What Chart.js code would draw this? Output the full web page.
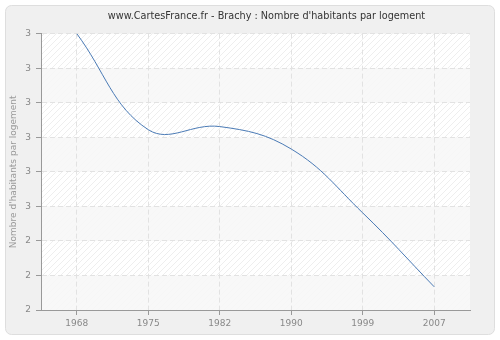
<!DOCTYPE html>
<html>
<head>
<meta charset="utf-8">
<script src="https://cdn.jsdelivr.net/npm/chart.js@4/dist/chart.umd.min.js"></script>
<style>
  html, body { margin: 0; padding: 0; background: #fff; }
</style>
</head>
<body>
<canvas id="chart" width="500" height="340"></canvas>
<script>
// values
const years = ['1968', '1975', '1982', '1990', '1999', '2007'];
const habitants = [3.0, 2.722, 2.731, 2.666, 2.481, 2.267];
const yMin = 2.2;
const yMax = 3.0;
const yStep = 0.1;

const font = "'DejaVu Sans', Verdana, sans-serif";

// hatch pattern for the plot area
function makeHatch() {
    const c = document.createElement('canvas');
    c.width = 6; c.height = 6;
    const g = c.getContext('2d');
    g.fillStyle = '#ffffff';
    g.fillRect(0, 0, 6, 6);
    g.strokeStyle = '#eeeeee';
    g.lineWidth = 1;
    g.beginPath();
    g.moveTo(0, 6); g.lineTo(6, 0);
    g.moveTo(-3, 3); g.lineTo(3, -3);
    g.moveTo(3, 9); g.lineTo(9, 3);
    g.stroke();
    return g.createPattern(c, 'repeat');
}

const background = {
    id: 'background',
    afterLayout(chart) {
        // title sits a little right of the canvas centre
        chart.titleBlock.left = 63;
        chart.titleBlock.right = 470;
    },
    beforeDraw(chart) {
        const ctx = chart.ctx;
        const a = chart.chartArea;
        const y = chart.scales.y;
        ctx.save();
        ctx.fillStyle = '#fff';
        ctx.fillRect(0, 0, chart.width, chart.height);
        ctx.beginPath();
        ctx.roundRect(5.5, 5.5, 489, 329, 6);
        ctx.fillStyle = '#f0f0f0';
        ctx.fill();
        ctx.strokeStyle = '#dedede';
        ctx.lineWidth = 1;
        ctx.stroke();

        ctx.fillStyle = makeHatch();
        ctx.fillRect(a.left, a.top, a.right - a.left, a.bottom - a.top);
        // alternate plain bands
        const ticks = y.ticks;
        ctx.fillStyle = 'rgba(247,247,247,0.85)';
        for (let i = 0; i < ticks.length - 1; i++) {
            if ((ticks.length - 2 - i) % 2 === 0) continue;
            const y1 = y.getPixelForValue(ticks[i].value);
            const y2 = y.getPixelForValue(ticks[i + 1].value);
            ctx.fillRect(a.left, Math.min(y1, y2), a.right - a.left, Math.abs(y2 - y1));
        }
        ctx.restore();
    }
};

new Chart(document.getElementById('chart'), {
    type: 'line',
    data: {
        labels: years,
        datasets: [{
            data: habitants,
            borderColor: '#4a7ab5',
            borderWidth: 1,
            pointRadius: 0,
            fill: false,
            tension: 0.4
        }]
    },
    options: {
        responsive: false,
        animation: false,
        layout: { padding: { left: 0, right: 30, top: 0, bottom: 0 } },
        plugins: {
            legend: { display: false },
            tooltip: { enabled: false },
            title: {
                display: true,
                text: "www.CartesFrance.fr - Brachy : Nombre d'habitants par logement",
                color: '#333',
                font: { family: font, size: 9.7, weight: 'normal' },
                padding: { top: 11, bottom: 11 }
            }
        },
        scales: {
            x: {
                type: 'category',
                offset: true,
                grid: { color: '#e2e2e2', tickLength: 5, tickColor: '#999', tickBorderDash: [] },
                border: { color: '#999', dash: [5, 3] },
                ticks: { color: '#888', font: { family: font, size: 9 }, padding: 3, maxRotation: 0 },
                afterFit(scale) { scale.height = 30; }
            },
            y: {
                min: yMin,
                max: yMax,
                grid: { color: '#e2e2e2', tickLength: 5, tickColor: '#999', tickBorderDash: [] },
                border: { color: '#999', dash: [5, 3] },
                ticks: {
                    stepSize: yStep,
                    color: '#888',
                    font: { family: font, size: 9 },
                    padding: 5,
                    callback: v => Math.round(v)
                },
                title: {
                    display: true,
                    text: "Nombre d'habitants par logement",
                    color: '#999',
                    font: { family: font, size: 9 },
                    padding: { top: 8, bottom: 0 }
                },
                afterFit(scale) { scale.width = 41; }
            }
        }
    },
    plugins: [background]
});
</script>
</body>
</html>
